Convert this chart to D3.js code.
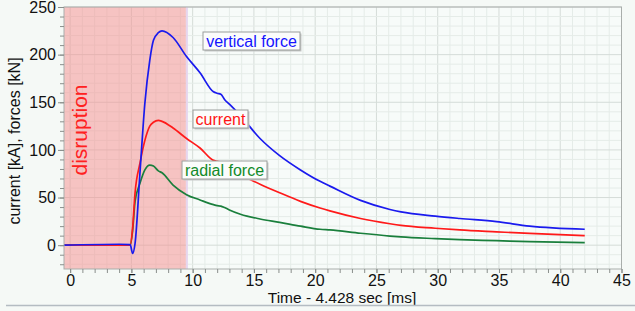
<!DOCTYPE html>
<html>
<head>
<meta charset="utf-8">
<script src="https://d3js.org/d3.v7.min.js"></script>
<style>
  body { margin: 0; background: #f5f9f6; }
  svg { display: block; font-family: "Liberation Sans", Arial, sans-serif; }
</style>
</head>
<body>
<div id="chart"></div>
<script>
// time axis (ms) and the three measured series
const time = [-0.5, 4.0, 4.9, 5.1, 5.3, 5.7, 6.1, 6.5, 6.8, 7.2, 7.5, 8.4, 9.5, 10.6, 11.7, 12.0, 12.3, 12.6, 13.0, 13.9, 15.5, 17.1, 18.8, 20.4, 21.2, 23.7, 26.1, 27.0, 29.8, 31.8, 34.8, 37.5, 42.0];
const verticalForce = [0, 1, 0.5, -8.5, 2, 76, 149, 194, 215, 223, 225, 218, 198, 181, 161, 159.5, 158.5, 153, 148, 136, 112, 94, 79, 67, 62, 47, 37.5, 35, 30.5, 28, 24.7, 20, 16.7];
const current = [0, 0, 0, 18, 55, 86, 110, 125, 129, 131, 130, 123, 112, 102, 89, 88, 87, 85, 80, 74, 64, 55, 46, 39, 36, 28, 22.5, 20.8, 17.8, 16, 14, 12.3, 10];
const radialForce = [0, 0, 0, 15, 46, 65, 79, 84, 83, 78, 76, 63, 53, 47.5, 42.5, 41.5, 41, 39.5, 37, 32.5, 27.5, 24, 20, 16.7, 16, 12.5, 9.6, 8.7, 6.9, 5.8, 4.7, 3.7, 2.6];

const xTicks = [0, 5, 10, 15, 20, 25, 30, 35, 40, 45];
const yTicks = [0, 50, 100, 150, 200, 250];
const disruption = [-0.5, 9.45];

const width = 635, height = 311;
const pLeft = 64, pRight = 621.5, pTop = 7, pBottom = 269;

const svg = d3.select("#chart").append("svg")
    .attr("width", width)
    .attr("height", height);

const x = d3.scaleLinear().domain([-0.5, 45]).range([pLeft, pRight]);
const y = d3.scaleLinear().domain([-25, 250]).range([pBottom, pTop]);

// plot background
svg.append("rect")
    .attr("x", pLeft).attr("y", pTop)
    .attr("width", pRight - pLeft).attr("height", pBottom - pTop)
    .attr("fill", "#f7fbf9");

// minor + major grid
const xMinor = d3.range(0, 46, 1);
const yMinor = d3.range(-20, 251, 10);
const grid = svg.append("g");
grid.selectAll(".vx").data(xMinor).enter().append("line")
    .attr("x1", d => x(d)).attr("x2", d => x(d))
    .attr("y1", pTop).attr("y2", pBottom)
    .attr("stroke", d => d % 5 == 0 ? "#d5dcd8" : "#e5ece8")
    .attr("stroke-width", 1);
grid.selectAll(".hy").data(yMinor).enter().append("line")
    .attr("x1", pLeft).attr("x2", pRight)
    .attr("y1", d => y(d)).attr("y2", d => y(d))
    .attr("stroke", d => d % 50 == 0 ? "#d5dcd8" : "#e5ece8")
    .attr("stroke-width", 1);

// disruption band
svg.append("rect")
    .attr("x", x(disruption[0])).attr("y", pTop)
    .attr("width", x(disruption[1]) - x(disruption[0]))
    .attr("height", pBottom - pTop)
    .attr("fill", "rgb(245,140,140)")
    .attr("fill-opacity", 0.5);
svg.append("line")
    .attr("x1", x(disruption[1]) + 1).attr("x2", x(disruption[1]) + 1)
    .attr("y1", pTop).attr("y2", pBottom)
    .attr("stroke", "#e6d6ee").attr("stroke-width", 2);

svg.append("text")
    .attr("transform", "translate(87," + 130 + ") rotate(-90)")
    .attr("text-anchor", "middle")
    .attr("font-size", 21)
    .attr("fill", "#ff2020")
    .text("disruption");

// lines
const line = d3.line()
    .x((d, i) => x(time[i]))
    .y(d => y(d))
    .curve(d3.curveMonotoneX);

const series = [
    { name: "radial force", values: radialForce, color: "#1a7f3c" },
    { name: "current", values: current, color: "#ff1a1a" },
    { name: "vertical force", values: verticalForce, color: "#1a1aee" }
];
series.forEach(function (s) {
    svg.append("path")
        .attr("d", line(s.values))
        .attr("fill", "none")
        .attr("stroke", s.color)
        .attr("stroke-width", 1.7);
});

// border
svg.append("rect")
    .attr("x", pLeft).attr("y", pTop)
    .attr("width", pRight - pLeft).attr("height", pBottom - pTop)
    .attr("fill", "none")
    .attr("stroke", "#a9aeab").attr("stroke-width", 1);

// axes
const xAxisMinor = d3.axisBottom(x).tickValues(xMinor).tickSize(4).tickFormat("");
const xAxis = d3.axisBottom(x).tickValues(xTicks).tickSize(4).tickPadding(2);
const yAxisMinor = d3.axisLeft(y).tickValues(yMinor).tickSize(4).tickFormat("");
const yAxis = d3.axisLeft(y).tickValues(yTicks).tickSize(6).tickPadding(2);

[xAxisMinor, xAxis].forEach(function (a) {
    svg.append("g").attr("transform", "translate(0," + pBottom + ")").call(a);
});
[yAxisMinor, yAxis].forEach(function (a) {
    svg.append("g").attr("transform", "translate(" + pLeft + ",0)").call(a);
});
svg.selectAll(".domain").remove();
svg.selectAll(".tick line").attr("stroke", "#8a8f8c");
svg.selectAll(".tick text")
    .attr("font-size", 16)
    .attr("font-family", "Liberation Sans, Arial, sans-serif")
    .attr("fill", "#111");

// axis titles
svg.append("text")
    .attr("x", 342).attr("y", 303)
    .attr("text-anchor", "middle")
    .attr("font-size", 15.5)
    .attr("fill", "#111")
    .text("Time - 4.428 sec [ms]");

svg.append("text")
    .attr("transform", "translate(20,141) rotate(-90)")
    .attr("text-anchor", "middle")
    .attr("font-size", 16)
    .attr("fill", "#111")
    .text("current [kA], forces [kN]");

// bottom rule
svg.append("line")
    .attr("x1", 6).attr("x2", width)
    .attr("y1", 305.5).attr("y2", 305.5)
    .attr("stroke", "#b4bcc2").attr("stroke-width", 1.5);

// series labels
const labels = [
    { text: "vertical force", color: "#1414ff", bx: 203, by: 32, bw: 97 },
    { text: "current", color: "#ff1414", bx: 193, by: 110, bw: 55 },
    { text: "radial force", color: "#128a2a", bx: 182, by: 161, bw: 85 }
];
labels.forEach(function (l) {
    svg.append("rect")
        .attr("x", l.bx + 1.5).attr("y", l.by + 1.5)
        .attr("width", l.bw).attr("height", 18)
        .attr("fill", "#c8cac9");
    svg.append("rect")
        .attr("x", l.bx).attr("y", l.by)
        .attr("width", l.bw).attr("height", 18)
        .attr("fill", "#fbfcfb")
        .attr("stroke", "#9a9d9b").attr("stroke-width", 1);
    svg.append("text")
        .attr("x", l.bx + l.bw / 2).attr("y", l.by + 14.5)
        .attr("text-anchor", "middle")
        .attr("font-size", 16)
        .attr("fill", l.color)
        .text(l.text);
});
</script>
</body>
</html>
